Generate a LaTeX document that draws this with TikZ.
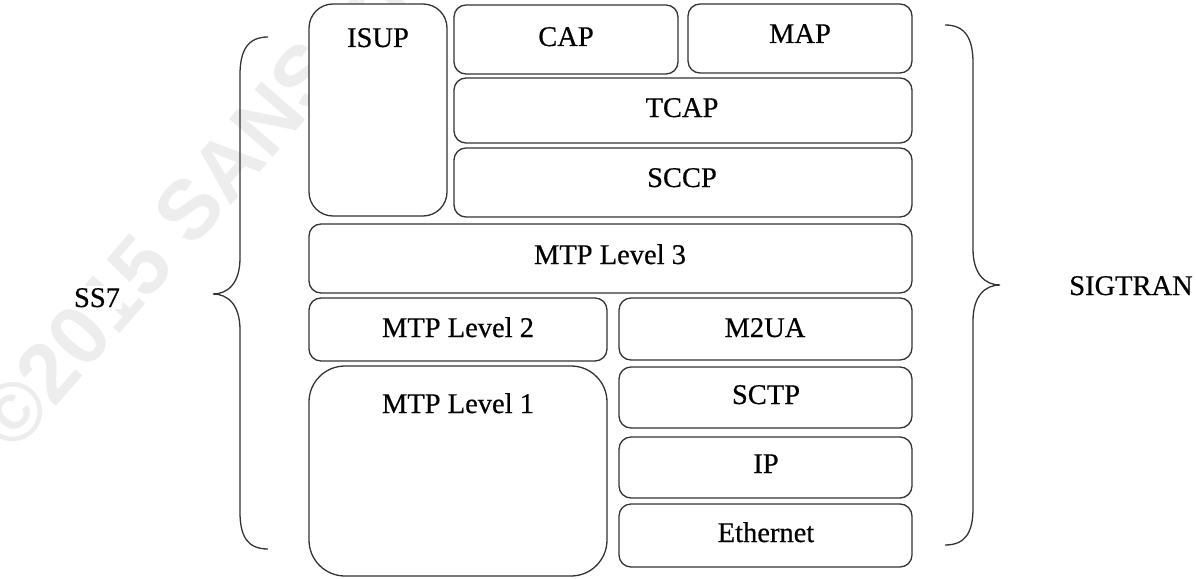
\documentclass[tikz,border=0pt]{standalone}
\usepackage{fontspec}
\setmainfont{Liberation Serif}[FakeBold=0.5]
\newfontfamily\wmfont{Liberation Sans}
\begin{document}
\begin{tikzpicture}[x=1pt,y=-1pt,
  layer/.style={draw=black!80,line width=1.3pt,fill=white,rounded corners=12pt},
  lbl/.style={anchor=base,inner sep=0pt,font=\fontsize{28.5}{30}\selectfont},
  side/.style={anchor=base,inner sep=2pt,font=\fontsize{28.5}{30}\selectfont},
  bracepath/.style={draw=black!80,line width=1.3pt}]
\useasboundingbox (0,0) rectangle (1196,578);
% faint watermark behind the stack
\node[anchor=base west,rotate=49,text=black!7,inner sep=0pt,
      font=\wmfont\bfseries\fontsize{84}{86}\selectfont] (wm) at (14,455) {©2015 SANS Institute};
% protocol stack
\draw[layer,rounded corners=24pt] (309,4) rectangle (447,216);
\coordinate (isup) at (378,47);
\draw[layer] (454,5) rectangle (678,74);
\coordinate (cap) at (566,46);
\draw[layer] (688,4) rectangle (912,73);
\coordinate (map) at (800,43);
\draw[layer] (454,78) rectangle (912,143);
\coordinate (tcap) at (682,117);
\draw[layer] (454,148) rectangle (912,217);
\coordinate (sccp) at (682,187);
\draw[layer] (309,224) rectangle (912,293);
\coordinate (mtp3) at (610,264);
\draw[layer] (309,298) rectangle (607,361);
\coordinate (mtp2) at (458,337);
\draw[layer] (619,298) rectangle (912,360);
\coordinate (m2ua) at (765,337);
\draw[layer,rounded corners=36pt] (309,366) rectangle (607,576);
\coordinate (mtp1) at (458,413);
\draw[layer] (619,367) rectangle (912,428);
\coordinate (sctp) at (766,404);
\draw[layer] (619,437) rectangle (912,498);
\coordinate (ip) at (766,473);
\draw[layer] (619,504) rectangle (912,567);
\coordinate (eth) at (766,542);
\node[lbl] (tisup) at (isup) {ISUP};
\node[lbl] (tcapl) at (cap) {CAP};
\node[lbl] (tmap) at (map) {MAP};
\node[lbl] (ttcap) at (tcap) {TCAP};
\node[lbl] (tsccp) at (sccp) {SCCP};
\node[lbl] (tmtp3) at (mtp3) {MTP Level 3};
\node[lbl] (tmtp2) at (mtp2) {MTP Level 2};
\node[lbl] (tm2ua) at (m2ua) {M2UA};
\node[lbl] (tmtp1) at (mtp1) {MTP Level 1};
\node[lbl] (tsctp) at (sctp) {SCTP};
\node[lbl] (tip) at (ip) {IP};
\node[lbl] (teth) at (eth) {Ethernet};
% braces
\draw[bracepath] (268,37) .. controls (248,37) and (240,50) .. (240,75)
  -- (240,258) .. controls (240,283) and (228,294) .. (213,294)
  .. controls (228,294) and (240,305) .. (240,330)
  -- (240,512) .. controls (240,537) and (248,549) .. (268,549);
\draw[bracepath] (945,25) .. controls (965,25) and (973,38) .. (973,63)
  -- (973,249) .. controls (973,274) and (985,285) .. (1000,285)
  .. controls (985,285) and (973,296) .. (973,321)
  -- (973,508) .. controls (973,533) and (965,545) .. (945,545);
\node[side,fill=white] (ss7) at (97,307) {SS7};
\node[side] (sigtran) at (1131,295) {SIGTRAN};
\end{tikzpicture}
\end{document}
